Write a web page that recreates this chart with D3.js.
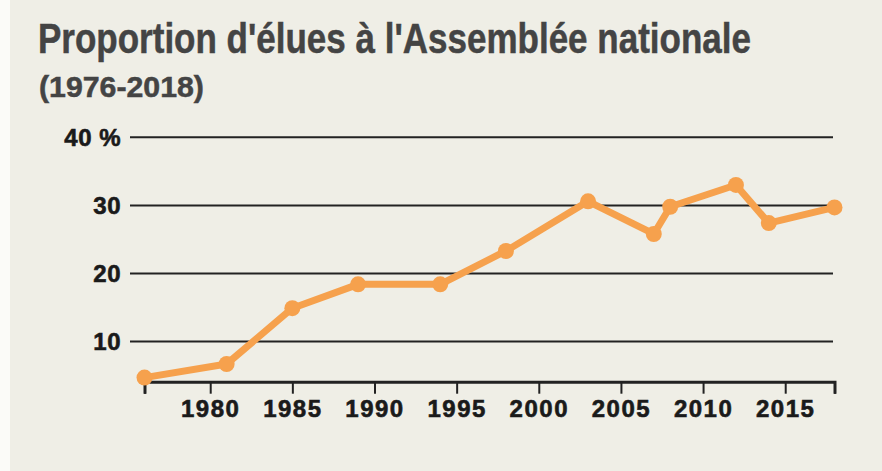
<!DOCTYPE html>
<html>
<head>
<meta charset="utf-8">
<script src="https://cdn.jsdelivr.net/npm/d3@7"></script>
<style>
  body { margin: 0; background: #efeee6; }
  svg { display: block; }
</style>
</head>
<body>
<svg width="882" height="471"></svg>
<script>
const years = [1976, 1981, 1985, 1989, 1994, 1998, 2003, 2007, 2008, 2012, 2014, 2018];
const shares = [4.7, 6.7, 14.9, 18.4, 18.4, 23.3, 30.6, 25.8, 29.8, 33.0, 27.4, 29.7];
const yTicks = [10, 20, 30, 40];
const xTicks = [1976, 1980, 1985, 1990, 1995, 2000, 2005, 2010, 2015, 2018];

const svg = d3.select("svg"),
  width = +svg.attr("width"),
  height = +svg.attr("height");

svg.append("rect").attr("width", width).attr("height", height).attr("fill", "#efeee6");
svg.append("rect").attr("width", 10).attr("height", height).attr("fill", "#fbfbf8");

const x = d3.scaleLinear().domain([1976, 2018]).range([144.5, 834.5]);
const y = d3.scaleLinear().domain([4.1, 40]).range([381.7, 137.3]);

// titles, squeezed horizontally to the reference width
function fitText(str, x0, y0, size, targetWidth) {
  const t = svg.append("text")
    .attr("font-family", "'Liberation Sans', Arial, sans-serif")
    .attr("font-weight", "bold")
    .attr("font-size", size)
    .attr("fill", "#444444")
    .attr("stroke", "#444444")
    .attr("stroke-width", 0.5)
    .text(str);
  const w = t.node().getComputedTextLength();
  t.attr("transform", `translate(${x0},${y0}) scale(${targetWidth / w},1)`);
}
fitText("Proportion d'élues à l'Assemblée nationale", 38, 53, 42, 713);
fitText("(1976-2018)", 39, 97, 29, 165);

// horizontal grid lines + labels
const grid = svg.append("g");
grid.selectAll("line")
  .data(yTicks)
  .join("line")
  .attr("x1", 130).attr("x2", 833)
  .attr("y1", d => y(d)).attr("y2", d => y(d))
  .attr("stroke", "#222")
  .attr("stroke-width", 2);

grid.selectAll("text")
  .data(yTicks)
  .join("text")
  .attr("x", 121)
  .attr("y", d => y(d))
  .attr("dy", "0.36em")
  .attr("text-anchor", "end")
  .attr("font-family", "'Liberation Sans', Arial, sans-serif")
  .attr("font-weight", "bold")
  .attr("font-size", 24)
  .attr("fill", "#1a1a1a")
  .attr("stroke", "#1a1a1a")
  .attr("stroke-width", 0.6)
  .attr("letter-spacing", 0.5)
  .text(d => d === 40 ? "40 %" : d);

// x axis
const xAxis = d3.axisBottom(x)
  .tickValues(xTicks)
  .tickSize(12)
  .tickPadding(6)
  .tickFormat(d => (d === 1976 || d === 2018) ? "" : d);

const gx = svg.append("g")
  .attr("transform", `translate(0,${y(4.1)})`)
  .call(xAxis);
gx.select(".domain").attr("stroke", "#222").attr("stroke-width", 3);
gx.selectAll(".tick line").attr("stroke", "#222").attr("stroke-width", 2);
gx.selectAll(".tick text")
  .attr("font-family", "'Liberation Sans', Arial, sans-serif")
  .attr("font-weight", "bold")
  .attr("font-size", 24)
  .attr("letter-spacing", 1.5)
  .attr("fill", "#1a1a1a")
  .attr("stroke", "#1a1a1a")
  .attr("stroke-width", 0.6);

// line + points
const data = years.map((yr, i) => ({ year: yr, value: shares[i] }));
const line = d3.line().x(d => x(d.year)).y(d => y(d.value));

svg.append("path")
  .datum(data)
  .attr("d", line)
  .attr("fill", "none")
  .attr("stroke", "#f6a14d")
  .attr("stroke-width", 7)
  .attr("stroke-linejoin", "round");

svg.append("g")
  .selectAll("circle")
  .data(data)
  .join("circle")
  .attr("cx", d => x(d.year))
  .attr("cy", d => y(d.value))
  .attr("r", 8)
  .attr("fill", "#f6a14d");
</script>
</body>
</html>
